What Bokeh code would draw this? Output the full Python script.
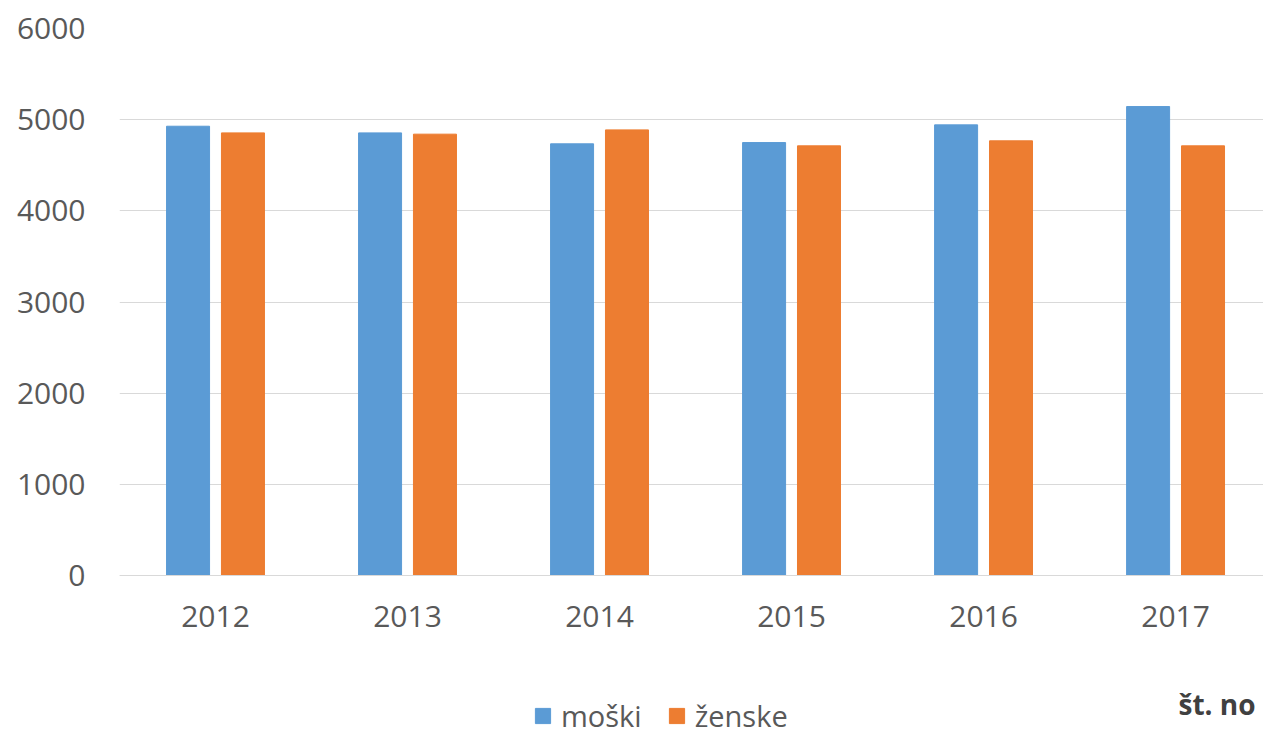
from bokeh.plotting import figure
from bokeh.models import ColumnDataSource, Range1d, FixedTicker, Legend, LegendItem, Label
from bokeh.transform import dodge
from bokeh.embed import file_html
from bokeh.resources import INLINE

years = ["2012", "2013", "2014", "2015", "2016", "2017"]
moski = [4928, 4855, 4735, 4749, 4943, 5144]
zenske = [4855, 4841, 4888, 4713, 4768, 4713]
y_ticks = [0, 1000, 2000, 3000, 4000, 5000, 6000]

BLUE = "#5B9BD5"
ORANGE = "#ED7D31"
TXT = "#595959"
FONT = "Open Sans"

src = ColumnDataSource(dict(x=list(range(len(years))), moski=moski, zenske=zenske))

# frame spans from the 6000 gridline down to the bottom of the canvas
p = figure(width=1263, height=735, output_backend="svg", toolbar_location=None,
           x_range=Range1d(-0.5, 5.458), y_range=Range1d(-1755, 6000),
           min_border_left=119, min_border_right=0, min_border_top=28, min_border_bottom=0)
p.outline_line_color = None
p.background_fill_color = "white"
p.border_fill_color = "white"

r1 = p.vbar(x=dodge("x", -0.143), top="moski", width=0.224, source=src,
            fill_color=BLUE, line_color=BLUE)
r2 = p.vbar(x=dodge("x", 0.143), top="zenske", width=0.224, source=src,
            fill_color=ORANGE, line_color=ORANGE)

p.xaxis.fixed_location = 0
p.xaxis.ticker = FixedTicker(ticks=list(range(len(years))))
p.xaxis.major_label_overrides = {i: y for i, y in enumerate(years)}
p.yaxis.ticker = FixedTicker(ticks=y_ticks)
for ax in (p.xaxis, p.yaxis):
    ax.major_tick_line_color = None
    ax.minor_tick_line_color = None
    ax.major_tick_out = 0
    ax.major_tick_in = 0
    ax.major_label_text_font = FONT
    ax.major_label_text_font_size = "30px"
    ax.major_label_text_color = TXT
p.yaxis.axis_line_color = None
p.xaxis.axis_line_color = "#D9D9D9"
p.yaxis.major_label_standoff = 34
p.xaxis.major_label_standoff = 30

p.xgrid.grid_line_color = None
p.ygrid.grid_line_color = "#D9D9D9"
p.ygrid.ticker = FixedTicker(ticks=y_ticks)

legend = Legend(items=[LegendItem(label="moški", renderers=[r1]),
                       LegendItem(label="ženske", renderers=[r2])],
                orientation="horizontal", location=(414, 0),
                label_text_font=FONT, label_text_font_size="29px", label_text_color=TXT,
                glyph_width=19, glyph_height=19, label_height=19, spacing=25, label_standoff=9,
                background_fill_alpha=0, border_line_color=None, padding=0, margin=0)
p.add_layout(legend, "center")

p.add_layout(Label(x=1059, y=32, x_units="screen", y_units="screen", text="št. no",
                   text_font=FONT, text_font_size="28px", text_font_style="bold",
                   text_color="#404040", text_baseline="alphabetic"))

open("out.html", "w").write(file_html(p, INLINE))
